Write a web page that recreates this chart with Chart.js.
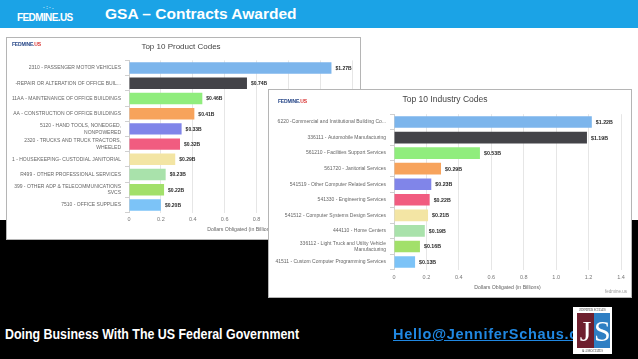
<!DOCTYPE html>
<html>
<head>
<meta charset="utf-8">
<script src="https://cdn.jsdelivr.net/npm/chart.js"></script>
<style>
  html, body { margin: 0; padding: 0; }
  body { width: 638px; height: 359px; position: relative; overflow: hidden; background: #000; font-family: "Liberation Sans", Arial, sans-serif; }
  .topbar { position: absolute; left: 0; top: 0; width: 638px; height: 28px; background: #1ba3e6; }
  .topbar .brand { position: absolute; left: 17px; top: 12px; color: #fff; font-size: 10px; font-weight: bold; letter-spacing: -0.6px; }
  .topbar .brand .dots { position: absolute; left: 26px; top: -8px; font-size: 6px; letter-spacing: 1px; color: #cdeefc; }
  .topbar h1 { position: absolute; left: 105px; top: 5px; margin: 0; color: #fff; font-size: 15.5px; font-weight: bold; }
  .white { position: absolute; left: 0; top: 28px; width: 638px; height: 192px; background: #fff; }
  .panel { position: absolute; background: #fff; border: 1px solid #b5b5b5; box-sizing: border-box; }
  .panel canvas { position: absolute; left: 0; top: 0; }
  .mini { position: absolute; font-size: 5px; font-weight: bold; color: #2b4a8a; letter-spacing: -0.2px; }
  .mini span { color: #d8302f; }
  .credit { position: absolute; font-size: 4.5px; color: #999; }
  .footer { position: absolute; left: 5px; top: 326px; color: #fff; font-weight: bold; font-size: 14.5px; transform: scaleX(0.855); transform-origin: left top; white-space: nowrap; }
  .mail { position: absolute; left: 393px; top: 326px; color: #2088e2; text-decoration: underline; font-weight: bold; font-size: 14.5px; letter-spacing: 0.7px; white-space: nowrap; }
  .js { position: absolute; left: 573px; top: 307px; width: 39px; height: 47px; background: #fff; }
  .js .t { position: absolute; left: 0; width: 39px; text-align: center; font-size: 3px; color: #333; font-family: "Liberation Serif", serif; }
  .js .j, .js .s { position: absolute; top: 6px; height: 35px; color: #fff; font-family: "Liberation Serif", serif; font-size: 30px; line-height: 35px; text-align: center; }
  .js .j { left: 4px; width: 17px; background: #6e1f2e; }
  .js .s { left: 21px; width: 16px; background: #2f7fc3; }
</style>
</head>
<body>
<div class="topbar">
  <div class="brand"><span class="dots">·:·.</span>FEDMINE.US</div>
  <h1>GSA – Contracts Awarded</h1>
</div>
<div class="white"></div>

<div class="panel" style="left:6px; top:37px; width:355px; height:203px;">
  <canvas id="productChart" width="353" height="201"></canvas>
  <div class="mini" style="left:5px; top:3px;">FEDMINE.<span>US</span></div>
</div>

<div class="panel" style="left:268px; top:89px; width:364px; height:209px;">
  <canvas id="industryChart" width="362" height="207"></canvas>
  <div class="mini" style="left:9px; top:8px;">FEDMINE.<span>US</span></div>
  <div class="credit" style="left:336px; top:199px;">fedmine.us</div>
</div>

<div class="footer">Doing Business With The US Federal Government</div>
<div class="mail">Hello@JenniferSchaus.com</div>
<div class="js">
  <div class="t" style="top:1px;">JENNIFER SCHAUS</div>
  <div class="j">J</div>
  <div class="s">S</div>
  <div class="t" style="top:42px;">&amp; ASSOCIATES</div>
</div>

<script>
const productLabels = [
  "2310 - PASSENGER MOTOR VEHICLES",
  "-REPAIR OR ALTERATION OF OFFICE BUIL...",
  "11AA - MAINTENANCE OF OFFICE BUILDINGS",
  "AA - CONSTRUCTION OF OFFICE BUILDINGS",
  ["5120 - HAND TOOLS, NONEDGED,", "NONPOWERED"],
  ["2320 - TRUCKS AND TRUCK TRACTORS,", "WHEELED"],
  "1 - HOUSEKEEPING- CUSTODIAL JANITORIAL",
  "R499 - OTHER PROFESSIONAL SERVICES",
  ["399 - OTHER ADP & TELECOMMUNICATIONS", "SVCS"],
  "7510 - OFFICE SUPPLIES"
];
const productValues = [1.27, 0.74, 0.46, 0.41, 0.33, 0.32, 0.29, 0.23, 0.22, 0.20];

const industryLabels = [
  "6220 -Commercial and Institutional Building Co...",
  "336111 - Automobile Manufacturing",
  "561210 - Facilities Support Services",
  "561720 - Janitorial Services",
  "541519 - Other Computer Related Services",
  "541330 - Engineering Services",
  "541512 - Computer Systems Design Services",
  "444110 - Home Centers",
  ["336112 - Light Truck and Utility Vehicle", "Manufacturing"],
  "41511 - Custom Computer Programming Services"
];
const industryValues = [1.22, 1.19, 0.53, 0.29, 0.23, 0.22, 0.21, 0.19, 0.16, 0.13];

const barColors = ['#7cb5ec', '#434348', '#90ed7d', '#f7a35c', '#8085e9', '#f15c80', '#f3e5a4', '#a9e2ab', '#a2e06a', '#7cc3f7'];
const axisTitle = 'Dollars Obligated (in Billions)';

// prints "$x.xxB" just past the end of each bar
const valueLabels = {
  id: 'valueLabels',
  afterDatasetsDraw(chart, args, opts) {
    const ctx = chart.ctx;
    const meta = chart.getDatasetMeta(0);
    ctx.save();
    ctx.font = 'bold ' + opts.size + 'px "Liberation Sans", Arial, sans-serif';
    ctx.fillStyle = '#2a2a2a';
    ctx.textAlign = 'left';
    ctx.textBaseline = 'middle';
    meta.data.forEach((bar, i) => {
      const v = chart.data.datasets[0].data[i];
      ctx.fillText('$' + v.toFixed(2) + 'B', bar.x + 4, bar.y + 0.5);
    });
    ctx.restore();
  }
};

function makeChart(id, labels, values, cfg) {
  return new Chart(document.getElementById(id), {
    type: 'bar',
    data: {
      labels: labels,
      datasets: [{
        data: values,
        backgroundColor: barColors,
        barPercentage: 0.75,
        categoryPercentage: 1
      }]
    },
    options: {
      indexAxis: 'y',
      responsive: false,
      animation: false,
      devicePixelRatio: 1,
      layout: { padding: { top: 0, left: 0, right: cfg.padRight, bottom: cfg.padBottom } },
      plugins: {
        legend: { display: false },
        tooltip: { enabled: false },
        title: {
          display: true,
          text: cfg.title,
          color: '#444',
          font: { size: cfg.titleSize, weight: 'normal', family: '"Liberation Sans", Arial, sans-serif' },
          padding: { top: cfg.titleTop, bottom: cfg.titleBottom }
        },
        valueLabels: { size: cfg.valueSize }
      },
      scales: {
        x: {
          min: 0,
          max: 1.4,
          ticks: { stepSize: 0.2, color: '#777', padding: cfg.tickPad, font: { size: 5.5, family: '"Liberation Sans", Arial, sans-serif' } },
          grid: { color: '#e6e6e6', drawTicks: false },
          border: { display: false },
          title: { display: true, text: axisTitle, color: '#666', padding: 0, font: { size: 5.2, family: '"Liberation Sans", Arial, sans-serif' } },
          afterFit: (s) => { s.height = cfg.xHeight; }
        },
        y: {
          ticks: { autoSkip: false, color: '#666', padding: 4, font: { size: 5, family: '"Liberation Sans", Arial, sans-serif', lineHeight: 1.3 } },
          grid: { drawOnChartArea: false, color: '#d0d0d0', tickLength: 4 },
          border: { display: true, color: '#d0d0d0' },
          afterFit: (s) => { s.width = cfg.yWidth; }
        }
      }
    },
    plugins: [valueLabels]
  });
}

makeChart('productChart', productLabels, productValues, {
  title: 'Top 10 Product Codes', titleSize: 8, titleTop: 4, titleBottom: 8.8,
  padRight: 5, padBottom: 6.7, xHeight: 19.7, yWidth: 122, tickPad: 4, valueSize: 5
});
makeChart('industryChart', industryLabels, industryValues, {
  title: 'Top 10 Industry Codes', titleSize: 8.5, titleTop: 4.9, titleBottom: 9.1,
  padRight: 10, padBottom: 6.7, xHeight: 20.5, yWidth: 125, tickPad: 4, valueSize: 5.3
});
</script>
</body>
</html>
